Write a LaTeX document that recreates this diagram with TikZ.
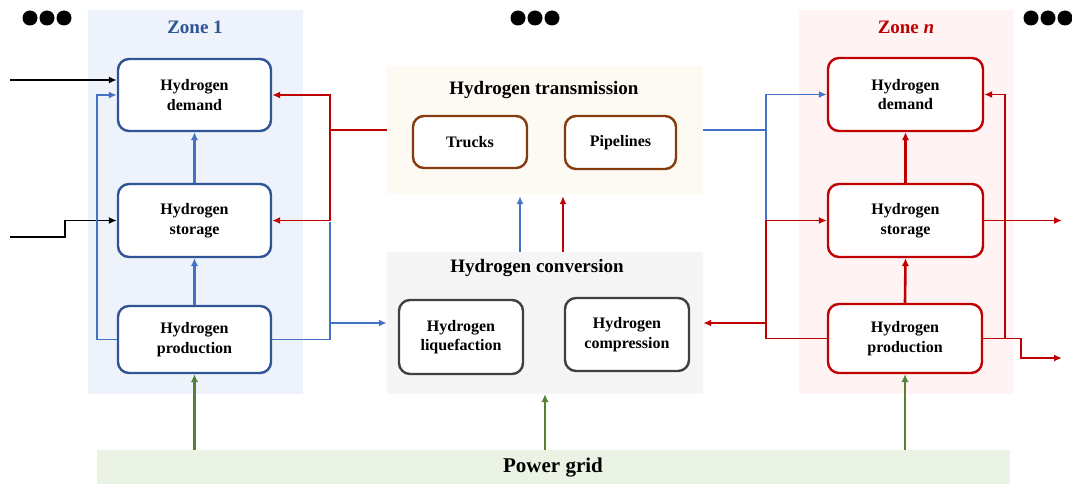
\documentclass[tikz,border=0pt]{standalone}
\usepackage{fontspec}
\setmainfont{Liberation Serif}
\usetikzlibrary{arrows.meta}
\definecolor{zblue}{HTML}{2F5597}
\definecolor{lblue}{HTML}{4472C4}
\definecolor{zred}{HTML}{C00000}
\definecolor{zgreen}{HTML}{548235}
\definecolor{zbrown}{HTML}{843C0C}
\definecolor{zgray}{HTML}{404040}
\definecolor{bgblue}{RGB}{238,242,250}
\definecolor{bgred}{RGB}{255,243,244}
\definecolor{bgpeach}{RGB}{253,249,243}
\definecolor{bggray}{RGB}{245,245,245}
\definecolor{bggreen}{RGB}{235,243,229}
\tikzset{
  region/.style={draw=none, inner sep=0pt},
  hbox/.style={draw, line width=2.4pt, rounded corners=11pt, fill=white, align=center,
    font=\bfseries\fontsize{16}{19.5}\selectfont, inner sep=0pt},
  ttl/.style={font=\bfseries\fontsize{19}{22}\selectfont, inner sep=0pt},
  conn/.style={line width=1.8pt, -{Latex[length=8pt,width=7pt]}},
  plain/.style={line width=1.8pt},
  thick conn/.style={line width=2.6pt, -{Latex[length=8pt,width=7.5pt]}},
}
\begin{document}
\begin{tikzpicture}[x=1pt,y=-1pt]
\useasboundingbox (0,0) rectangle (1072,484);
% regions
\node[region, fill=bgblue, minimum width=215, minimum height=384] (zone1) at (195.5,202) {};
\node[region, fill=bgred, minimum width=215, minimum height=384] (zonen) at (906.5,202) {};
\node[region, fill=bgpeach, minimum width=316, minimum height=128] (trans) at (545,130) {};
\node[region, fill=bggray, minimum width=316, minimum height=142] (conv) at (545,323) {};
\node[region, fill=bggreen, minimum width=913, minimum height=34] (grid) at (553.5,467) {};
% titles
\node[ttl, text=zblue] (t1) at (195,27) {Zone 1};
\node[ttl, text=zred] (tn) at (906,27) {Zone \textit{n}};
\node[ttl] (tt) at (544,90) {Hydrogen transmission};
\node[ttl] (tc) at (537,268) {Hydrogen conversion};
\node[font=\bfseries\fontsize{21}{24}\selectfont, inner sep=0pt] (tg) at (553,468) {Power grid};
% dots
\foreach \x/\n in {30/a,47/b,64/c,518/d,535/e,552/f,1031/g,1048/h,1065/i}
  \fill (\x,18) circle (7.5);
% zone 1 boxes
\node[hbox, draw=zblue, minimum width=153, minimum height=72] (z1d) at (194.5,95) {Hydrogen\\demand};
\node[hbox, draw=zblue, minimum width=153, minimum height=73] (z1s) at (194.5,220.5) {Hydrogen\\storage};
\node[hbox, draw=zblue, minimum width=153, minimum height=67] (z1p) at (194.5,339.5) {Hydrogen\\production};
% transmission
\node[hbox, draw=zbrown, minimum width=114, minimum height=52] (trk) at (470,142) {Trucks};
\node[hbox, draw=zbrown, minimum width=111, minimum height=53] (pip) at (620.5,142.5) {Pipelines};
% conversion
\node[hbox, draw=zgray, minimum width=124, minimum height=74] (liq) at (461,337) {Hydrogen\\liquefaction};
\node[hbox, draw=zgray, minimum width=124, minimum height=73] (cmp) at (627,334.5) {Hydrogen\\compression};
% zone n boxes
\node[hbox, draw=zred, minimum width=155, minimum height=73] (znd) at (905.5,94.5) {Hydrogen\\demand};
\node[hbox, draw=zred, minimum width=155, minimum height=73] (zns) at (905.5,220.5) {Hydrogen\\storage};
\node[hbox, draw=zred, minimum width=154, minimum height=69] (znp) at (905,338.5) {Hydrogen\\production};

% coordinates
\coordinate (b1) at (10,80);
\coordinate (b2) at (10,237);
\coordinate (rl) at (330,130);
\coordinate (jb) at (330,222);
\coordinate (jc) at (330,323);
\coordinate (ub) at (520,0);
\coordinate (ur) at (563,0);
\coordinate (jn) at (766,130);
\coordinate (jn2) at (766,220.5);
\coordinate (jr3) at (766,323);
\coordinate (o1) at (1062,0);
\coordinate (jl) at (1005,338.5);
\coordinate (o2) at (1062,358);
\coordinate (gm) at (545,0);

% black inputs
\draw[conn, black] (b1) -- (b1 -| z1d.west);
\draw[conn, black] (b2) -- ++(55,0) |- (z1s.west);
% zone 1 internal
\draw[thick conn, lblue] (z1s.north) -- (z1d.south);
\draw[thick conn, lblue] (z1p.north) -- (z1s.south);
\draw[conn, lblue] (z1p.west) -- ++(-20,0) |- (z1d.west);
\draw[plain, lblue] (z1p.east) -| (jb);
\draw[conn, lblue] (jc) -- (jc -| conv.west);
% red from transmission to zone 1
\draw[conn, zred] (trans.west) -- (rl) |- (z1d.east);
\draw[conn, zred] (rl) |- (z1s.east);
% conversion to transmission
\draw[conn, lblue, shorten >=2pt] (ub |- conv.north) -- (ub |- trans.south);
\draw[conn, zred, shorten >=2pt] (ur |- conv.north) -- (ur |- trans.south);
% transmission to zone n
\draw[conn, lblue] (trans.east) -- (jn) |- (znd.west);
\draw[plain, lblue] (jn) -- (jn2);
\draw[conn, zred] (jn2) -- (zns.west);
\draw[plain, zred] (jn2) |- (znp.west);
\draw[conn, zred] (jr3) -- (jr3 -| conv.east);
% zone n internal
\draw[thick conn, zred] (znp.north) -- (zns.south);
\draw[thick conn, zred] (zns.north) -- (znd.south);
\draw[conn, zred] (zns.east) -- (zns.east -| o1);
\draw[plain, zred] (znp.east) -- (jl);
\draw[conn, zred] (jl) |- (znd.east);
\draw[conn, zred] (jl) -- ++(16,0) |- (o2);
% power grid
\draw[thick conn, zgreen] (grid.north -| z1p.south) -- (z1p.south);
\draw[thick conn, zgreen] (grid.north -| gm) -- (gm |- conv.south);
\draw[thick conn, zgreen] (grid.north -| znp.south) -- (znp.south);
\end{tikzpicture}
\end{document}
